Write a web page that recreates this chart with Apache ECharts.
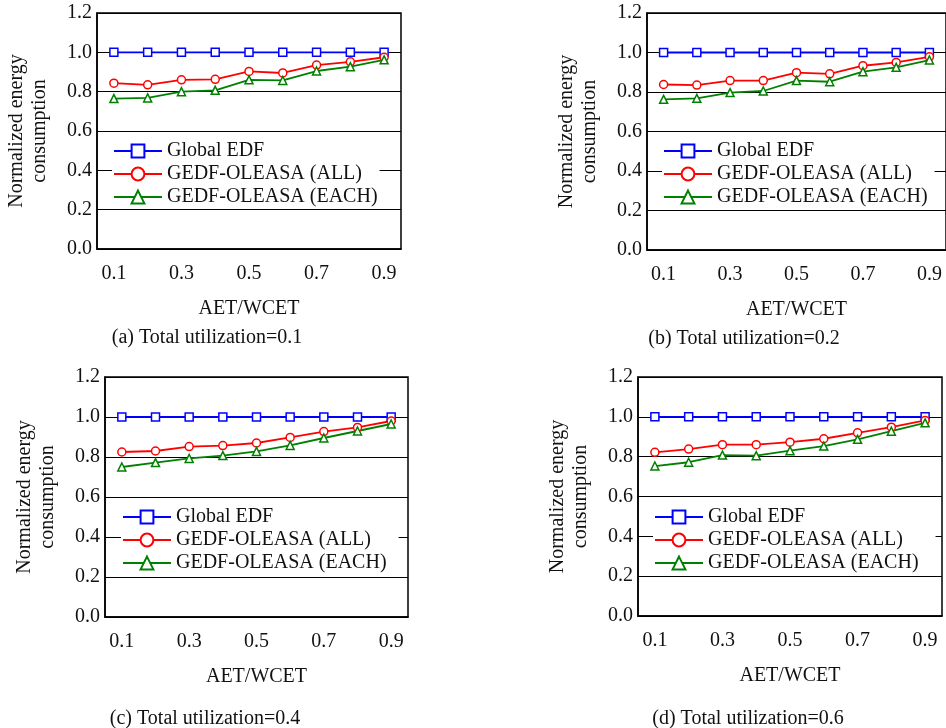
<!DOCTYPE html>
<html>
<head>
<meta charset="utf-8">
<script src="https://cdn.jsdelivr.net/npm/echarts@6/dist/echarts.min.js"></script>
<style>
body{margin:0;background:#fff;}
#main{width:946px;height:728px;}
</style>
</head>
<body>
<div id="main"></div>
<script>
// AET/WCET ratios (x categories)
var xCats = ['0.1','0.2','0.3','0.4','0.5','0.6','0.7','0.8','0.9'];
var yTicks = [0, 0.2, 0.4, 0.6, 0.8, 1.0, 1.2];
var seriesNames = ['Global EDF', 'GEDF-OLEASA (ALL)', 'GEDF-OLEASA (EACH)'];

// (a) total utilization = 0.1
var edfA  = [1, 1, 1, 1, 1, 1, 1, 1, 1];
var allA  = [0.843, 0.835, 0.860, 0.863, 0.903, 0.895, 0.935, 0.952, 0.975];
var eachA = [0.765, 0.768, 0.800, 0.807, 0.860, 0.857, 0.905, 0.927, 0.962];
// (b) total utilization = 0.2
var edfB  = [1, 1, 1, 1, 1, 1, 1, 1, 1];
var allB  = [0.838, 0.835, 0.858, 0.858, 0.898, 0.892, 0.933, 0.950, 0.978];
var eachB = [0.763, 0.768, 0.797, 0.805, 0.858, 0.852, 0.903, 0.925, 0.962];
// (c) total utilization = 0.4
var edfC  = [1, 1, 1, 1, 1, 1, 1, 1, 1];
var allC  = [0.825, 0.830, 0.852, 0.857, 0.870, 0.898, 0.927, 0.948, 0.980];
var eachC = [0.750, 0.772, 0.793, 0.807, 0.828, 0.858, 0.895, 0.930, 0.965];
// (d) total utilization = 0.6
var edfD  = [1, 1, 1, 1, 1, 1, 1, 1, 1];
var allD  = [0.822, 0.838, 0.860, 0.860, 0.873, 0.890, 0.920, 0.948, 0.982];
var eachD = [0.753, 0.772, 0.808, 0.805, 0.830, 0.853, 0.887, 0.928, 0.970];

var captions = ['(a) Total utilization=0.1', '(b) Total utilization=0.2',
                '(c) Total utilization=0.4', '(d) Total utilization=0.6'];

var FONT = '"Liberation Serif", "Times New Roman", serif';
var colors = ['#0000ff', '#ff0000', '#008000'];
var symbols = ['rect', 'circle', 'triangle'];

// panel layout: grid box, legend spot, caption spot
var panels = [
	{data:[edfA, allA, eachA], grid:{left:97, top:13, width:304, height:236},  legend:{left:112, top:139}, cap:[207, 338]},
	{data:[edfB, allB, eachB], grid:{left:647, top:13, width:303, height:237}, legend:{left:662, top:139}, cap:[744, 339]},
	{data:[edfC, allC, eachC], grid:{left:105, top:377, width:303, height:240}, legend:{left:121, top:505}, cap:[205, 719]},
	{data:[edfD, allD, eachD], grid:{left:638, top:377, width:304, height:239}, legend:{left:653, top:505}, cap:[748, 719]}
];

var option = {
	backgroundColor: '#fff',
	animation: false,
	textStyle: { fontFamily: FONT, color: '#111' },
	grid: [], xAxis: [], yAxis: [], legend: [], series: [], graphic: []
};

panels.forEach(function (p, i) {
	option.grid.push({
		left: p.grid.left, top: p.grid.top, width: p.grid.width, height: p.grid.height,
		show: true, borderColor: '#000', borderWidth: 1.5, containLabel: false
	});
	// bottom axis with labels
	option.xAxis.push({
		type: 'category', gridIndex: i, data: xCats, boundaryGap: true,
		name: 'AET/WCET', nameLocation: 'middle', nameGap: 50,
		nameTextStyle: { fontFamily: FONT, fontSize: 20, color: '#111' },
		axisLine: { lineStyle: { color: '#000', width: 1.5 } },
		axisTick: { inside: true, length: 4, interval: 0, alignWithLabel: true, lineStyle: { color: '#000' } },
		axisLabel: { interval: 1, margin: 15, fontFamily: FONT, fontSize: 20, color: '#111' },
		splitLine: { show: false }
	});
	// top axis, ticks only
	option.xAxis.push({
		type: 'category', gridIndex: i, data: xCats, boundaryGap: true, position: 'top',
		axisLine: { show: false },
		axisTick: { inside: true, length: 4, interval: 0, alignWithLabel: true, lineStyle: { color: '#000' } },
		axisLabel: { show: false },
		splitLine: { show: false }
	});
	option.yAxis.push({
		type: 'value', gridIndex: i, min: yTicks[0], max: yTicks[yTicks.length - 1], interval: 0.2,
		name: 'Normalized energy\nconsumption', nameLocation: 'middle', nameGap: 46,
		nameTextStyle: { fontFamily: FONT, fontSize: 20, color: '#111', lineHeight: 23 },
		axisLine: { show: true, lineStyle: { color: '#000', width: 1.5 } },
		axisTick: { show: false },
		axisLabel: { margin: 5, fontFamily: FONT, fontSize: 20, color: '#111',
			formatter: function (v) { return v.toFixed(1); } },
		splitLine: { show: true, lineStyle: { color: '#000', width: 1.2 } }
	});
	option.legend.push({
		orient: 'vertical', left: p.legend.left, top: p.legend.top,
		backgroundColor: '#fff', padding: [2, 2, 2, 1],
		itemWidth: 48, itemHeight: 16, itemGap: 3,
		textStyle: { fontFamily: FONT, fontSize: 20, color: '#111' },
		data: seriesNames.map(function (n) { return n + ' '.repeat(i); })
	});
	p.data.forEach(function (vals, k) {
		option.series.push({
			name: seriesNames[k] + ' '.repeat(i),
			type: 'line', xAxisIndex: i * 2, yAxisIndex: i,
			data: vals,
			symbol: symbols[k], symbolSize: 8,
			lineStyle: { color: colors[k], width: 1.8 },
			itemStyle: { color: '#fff', borderColor: colors[k], borderWidth: 1.5 }
		});
	});
	option.graphic.push({
		type: 'text', x: p.cap[0], y: p.cap[1],
		style: { text: captions[i], font: '20px ' + FONT, fill: '#111', textAlign: 'center', textVerticalAlign: 'middle' }
	});
});

var myChart = echarts.init(document.getElementById('main'));
myChart.setOption(option);
</script>
</body>
</html>
